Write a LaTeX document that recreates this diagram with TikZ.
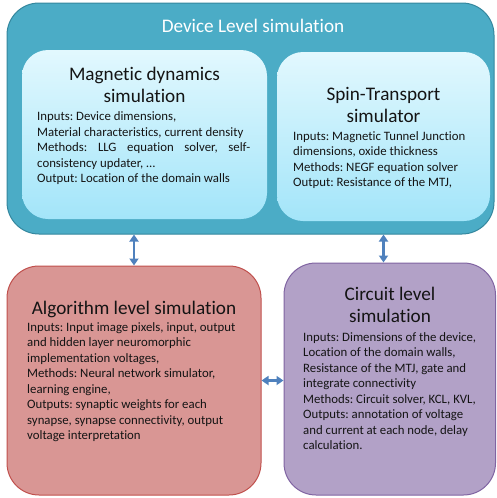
\documentclass[tikz,border=0pt]{standalone}
\usepackage{fontspec}
\setmainfont[Ligatures=NoCommon]{Carlito}
\usetikzlibrary{arrows.meta}
\definecolor{devfill}{RGB}{75,172,198}
\definecolor{devline}{RGB}{52,135,158}
\definecolor{inntop}{RGB}{226,248,254}
\definecolor{innbot}{RGB}{163,229,249}
\definecolor{algfill}{RGB}{217,150,148}
\definecolor{algline}{RGB}{192,80,77}
\definecolor{cirfill}{RGB}{178,161,199}
\definecolor{cirline}{RGB}{128,100,162}
\definecolor{arrowblue}{RGB}{79,129,189}
\definecolor{inktext}{RGB}{20,20,20}
\frenchspacing
\begin{document}
\begin{tikzpicture}[x=1pt,y=-1pt,
  panel/.style={rectangle, inner sep=0pt, line width=1pt},
  inner/.style={panel, draw=none, top color=inntop, bottom color=innbot, rounded corners=26pt},
  titletext/.style={anchor=north, inner sep=0pt, align=center, text=inktext, font=\fontsize{19.2}{22.8}\selectfont},
  bodytext/.style={anchor=north west, inner sep=0pt, align=left, text=inktext, font=\fontsize{12.8}{15.5}\selectfont},
  link/.style={arrowblue, line width=2.6pt, {Triangle[width=9pt,length=7pt]}-{Triangle[width=9pt,length=7pt]}}
]
\useasboundingbox (0,0) rectangle (496,498);

% panels
\node[panel, fill=devfill, draw=devline, rounded corners=32pt, minimum width=487pt, minimum height=231pt] (device) at (250.5,118.5) {};
\node[inner, minimum width=245pt, minimum height=169pt] (magbox) at (144.5,134.5) {};
\node[inner, minimum width=213pt, minimum height=169pt] (spinbox) at (383.5,136.5) {};
\node[panel, fill=algfill, draw=algline, rounded corners=32pt, minimum width=254pt, minimum height=229pt] (algo) at (134,380.5) {};
\node[panel, fill=cirfill, draw=cirline, rounded corners=32pt, minimum width=211.5pt, minimum height=232pt] (circuit) at (389.75,379) {};

% titles
\node[titletext, text=white] (devtitle) at (253,16.04) {\strut Device Level simulation};
\node[titletext] (magtitle) at (144.5,64) {\strut Magnetic dynamics\\simulation};
\node[titletext] (spintitle) at (383.5,84) {\strut Spin-Transport\\simulator};
\node[titletext] (algtitle) at (134,298) {\strut Algorithm level simulation};
\node[titletext] (cirtitle) at (390,284) {\strut Circuit level\\simulation};

% bodies
\node[bodytext, text width=213pt, align=justify] (magbody) at (37,109.8) {\strut Inputs: Device dimensions,\\
Material characteristics, current density\\
Methods: LLG equation solver, self-\linebreak
consistency updater, …\\
Output: Location of the domain walls};

\node[bodytext] (spinbody) at (293,129.1) {\strut Inputs: Magnetic Tunnel Junction\\
dimensions, oxide thickness\\
Methods: NEGF equation solver\\
Output: Resistance of the MTJ,};

\node[bodytext] (algbody) at (27,320.1) {\strut Inputs: Input image pixels, input, output\\
and hidden layer neuromorphic\\
implementation voltages,\\
Methods: Neural network simulator,\\
learning engine,\\
Outputs: synaptic weights for each\\
synapse, synapse connectivity, output\\
voltage interpretation};

\node[bodytext] (cirbody) at (303,330.1) {\strut Inputs: Dimensions of the device,\\
Location of the domain walls,\\
Resistance of the MTJ, gate and\\
integrate connectivity\\
Methods: Circuit solver, KCL, KVL,\\
Outputs: annotation of voltage\\
and current at each node, delay\\
calculation.};

% connectors
\draw[link] (algo.north |- device.south) -- (algo.north);
\draw[link] (spinbox.south |- device.south) -- (spinbox.south |- circuit.north);
\draw[link] (algo.east) -- (algo.east -| circuit.west);
\end{tikzpicture}
\end{document}
